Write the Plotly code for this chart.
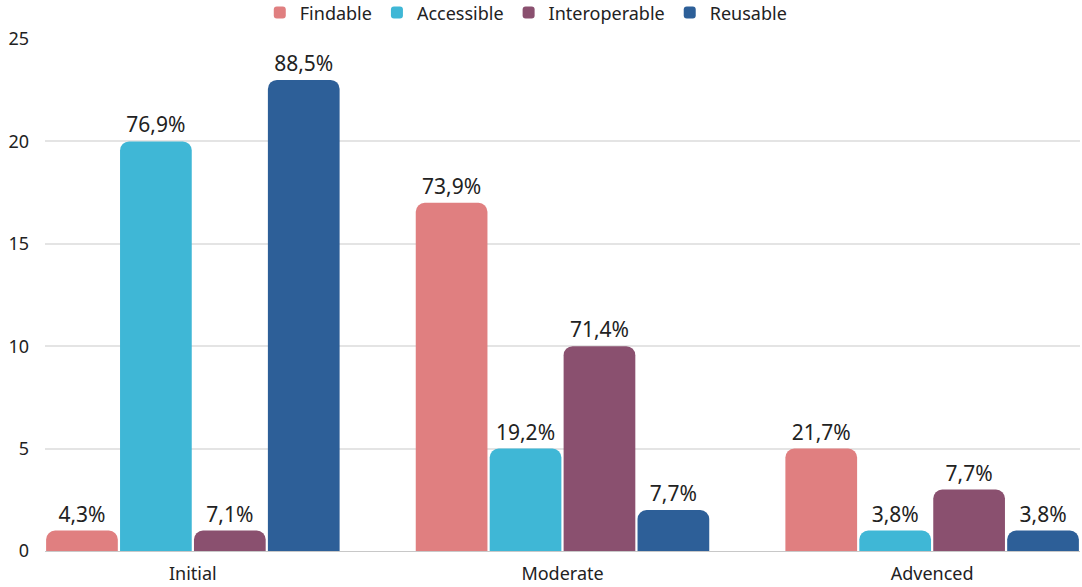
import plotly.graph_objects as go

categories = ["Initial", "Moderate", "Advenced"]
series_names = ["Findable", "Accessible", "Interoperable", "Reusable"]
findable = [1, 17, 5]
accessible = [20, 5, 1]
interoperable = [1, 10, 3]
reusable = [23, 2, 1]
findable_labels = ["4,3%", "73,9%", "21,7%"]
accessible_labels = ["76,9%", "19,2%", "3,8%"]
interoperable_labels = ["7,1%", "71,4%", "7,7%"]
reusable_labels = ["88,5%", "7,7%", "3,8%"]
y_ticks = [0, 5, 10, 15, 20, 25]

colors = ["#E07F80", "#3FB7D6", "#8A506F", "#2D5F98"]
values = [findable, accessible, interoperable, reusable]
labels = [findable_labels, accessible_labels, interoperable_labels, reusable_labels]

FONT = "Noto Sans"
TEXT = "#222222"

fig = go.Figure()
for name, vals, txt, col in zip(series_names, values, labels, colors):
    fig.add_trace(go.Bar(
        name=name,
        x=categories,
        y=vals,
        text=txt,
        textposition="outside",
        textfont=dict(size=21, color=TEXT, family=FONT),
        cliponaxis=False,
        marker=dict(color=col, line=dict(width=0)),
    ))

fig.update_layout(
    barmode="group",
    bargap=0.2,
    bargroupgap=0.03,
    barcornerradius=9,
    width=1082,
    height=587,
    margin=dict(l=45, r=2, t=39, b=36, autoexpand=False),
    paper_bgcolor="white",
    plot_bgcolor="white",
    font=dict(family=FONT, size=18, color=TEXT),
    legend=dict(
        orientation="h",
        x=0.465, xanchor="center",
        y=1.051, yanchor="middle",
        font=dict(size=18, family=FONT, color=TEXT),
        traceorder="normal",
        itemwidth=30,
    ),
    xaxis=dict(
        range=[-0.4, 2.4],
        showgrid=False,
        showline=True,
        linecolor="#C8C8C8",
        linewidth=1,
        ticks="",
        ticklabelstandoff=6,
        tickfont=dict(size=18, family=FONT, color=TEXT),
    ),
    yaxis=dict(
        range=[0, 25],
        tickvals=y_ticks,
        showgrid=True,
        gridcolor="#E4E4E4",
        gridwidth=1.5,
        zeroline=False,
        ticks="",
        ticklabelstandoff=15,
        tickfont=dict(size=18, family=FONT, color=TEXT),
    ),
)

fig.write_html("out.html")
